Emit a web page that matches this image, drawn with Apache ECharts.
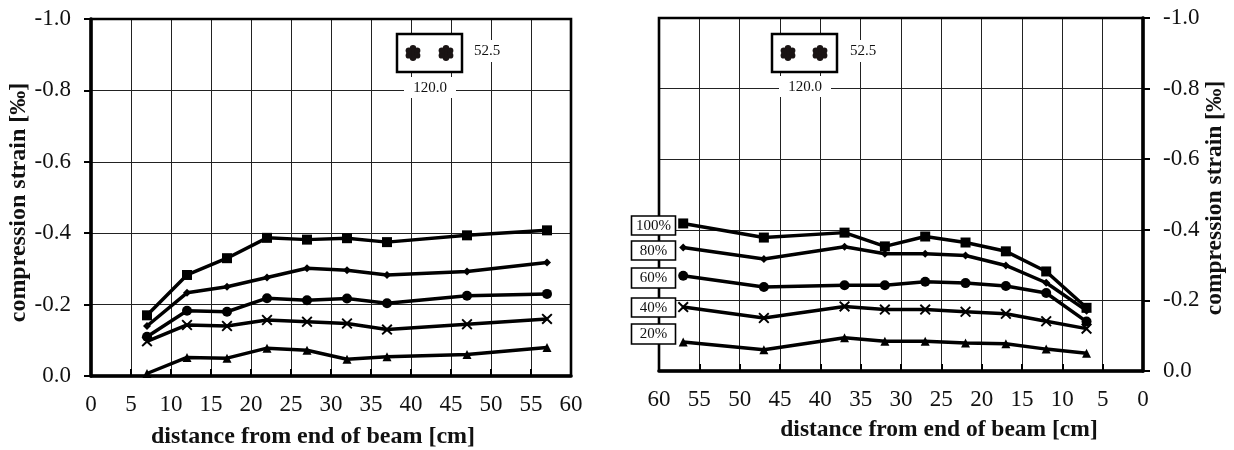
<!DOCTYPE html>
<html><head><meta charset="utf-8">
<style>html,body{margin:0;padding:0;background:#fff}#c{width:1234px;height:450px}</style>
<script src="https://cdn.jsdelivr.net/npm/echarts@6/dist/echarts.min.js"></script>
</head><body><div id="c"></div>
<script>
const seriesNames = ['100%','80%','60%','40%','20%'];
const yTicks = [-1.0,-0.8,-0.6,-0.4,-0.2,0.0];
const leftX = [7,12,17,22,27,32,37,47,57];
const left100 = [-0.170,-0.283,-0.330,-0.387,-0.382,-0.386,-0.375,-0.394,-0.408];
const left80  = [-0.140,-0.233,-0.250,-0.276,-0.302,-0.296,-0.283,-0.293,-0.318];
const left60  = [-0.110,-0.183,-0.180,-0.218,-0.212,-0.217,-0.204,-0.225,-0.230];
const left40  = [-0.097,-0.143,-0.140,-0.157,-0.152,-0.147,-0.130,-0.145,-0.160];
const left20  = [-0.007,-0.052,-0.050,-0.078,-0.072,-0.047,-0.054,-0.060,-0.080];
const rightX = [57,47,37,32,27,22,17,12,7];
const right100 = [-0.418,-0.378,-0.392,-0.353,-0.381,-0.364,-0.339,-0.282,-0.179];
const right80  = [-0.350,-0.317,-0.352,-0.332,-0.332,-0.327,-0.299,-0.250,-0.171];
const right60  = [-0.270,-0.238,-0.243,-0.243,-0.253,-0.249,-0.241,-0.221,-0.140];
const right40  = [-0.181,-0.150,-0.183,-0.174,-0.174,-0.168,-0.162,-0.141,-0.120];
const right20  = [-0.082,-0.060,-0.094,-0.084,-0.084,-0.079,-0.077,-0.062,-0.050];
const FONT = '"Liberation Serif","Times New Roman",serif';
const INK = '#111';
const X_PATH = 'path://M1.2 0 L5 3.6 L8.8 0 L10 1.2 L6.3 5 L10 8.8 L8.8 10 L5 6.4 L1.2 10 L0 8.8 L3.7 5 L0 1.2 Z';
const symbols = ['rect','diamond','circle',X_PATH,'triangle'];
const sizes = [10,8,10,11,9];

function axes(gridIndex, rightSide){
  return {
    x:{gridIndex,type:'value',min:0,max:60,interval:5,inverse:rightSide,position:'bottom',
      name:'distance from end of beam [cm]',nameLocation:'middle',nameGap:rightSide?47:49,
      nameTextStyle:{fontFamily:FONT,fontSize:rightSide?23.5:24,fontWeight:'bold',color:INK,
        padding:rightSide?[0,0,0,76]:[0,36,0,0]},
      axisLine:{show:true,onZero:false,lineStyle:{color:'#000',width:3.5}},
      axisTick:{show:true,inside:true,length:7,lineStyle:{color:'#000',width:2}},
      axisLabel:{fontFamily:FONT,fontSize:23,color:INK,margin:17,showMinLabel:true,showMaxLabel:true},
      splitLine:{show:true,lineStyle:{color:'#222',width:1}}},
    y:{gridIndex,type:'value',min:-1,max:0,interval:0.2,inverse:true,position:rightSide?'right':'left',
      name:'compression strain [‰]',nameLocation:'middle',nameGap:rightSide?60:58,nameRotate:90,
      nameTextStyle:{fontFamily:FONT,fontSize:rightSide?23.5:24,fontWeight:'bold',color:INK,
        padding:rightSide?[0,7,0,0]:[0,10,0,0]},
      axisLine:{show:true,onZero:false,lineStyle:{color:'#000',width:3.5}},
      axisTick:{show:true,inside:false,length:7,lineStyle:{color:'#000',width:2}},
      axisLabel:{fontFamily:FONT,fontSize:23,color:INK,margin:20,showMinLabel:true,showMaxLabel:true,
        formatter:v=>yTicks.find(t=>Math.abs(t-v)<1e-6).toFixed(1)},
      splitLine:{show:true,lineStyle:{color:'#222',width:1}}}
  };
}
function lines(xs, ys, axisIndex){
  return ys.map((vals,i)=>({
    type:'line',name:seriesNames[i],xAxisIndex:axisIndex,yAxisIndex:axisIndex,
    data:vals.map((v,j)=>[xs[j],v]),
    symbol:symbols[i],symbolSize:sizes[i],showSymbol:true,clip:false,z:5,animation:false,
    lineStyle:{color:'#000',width:3.5},
    itemStyle:{color:'#000'}
  }));
}
const a0 = axes(0,false), a1 = axes(1,true);

function sixLobe(cx,cy){
  const parts=[{type:'circle',shape:{cx,cy,r:6},style:{fill:'#1a1414'}}];
  [[0,-4.8],[4.2,-2.4],[4.2,2.4],[0,4.8],[-4.2,2.4],[-4.2,-2.4]].forEach(o=>{
    parts.push({type:'circle',shape:{cx:cx+o[0],cy:cy+o[1],r:3.2},style:{fill:'#1a1414'}});
  });
  return parts;
}
function inset(x0,x1,y0,y1,d1,d2,wx,wy,hx,hy){
  return [
    {type:'rect',shape:{x:x0,y:y0,width:x1-x0,height:y1-y0},style:{fill:'#fff',stroke:'#000',lineWidth:2.5},z:10},
    ...sixLobe(d1,(y0+y1)/2).map(p=>({...p,z:11})),
    ...sixLobe(d2,(y0+y1)/2).map(p=>({...p,z:11})),
    {type:'rect',shape:{x:hx-26,y:hy-11,width:52,height:21},style:{fill:'#fff'},z:10},
    {type:'text',x:hx,y:hy,style:{text:'120.0',fontFamily:FONT,fontSize:15,fill:INK,align:'center',verticalAlign:'middle'},z:11},
    {type:'rect',shape:{x:wx-15,y:wy-11,width:30,height:22},style:{fill:'#fff'},z:10},
    {type:'text',x:wx,y:wy,style:{text:'52.5',fontFamily:FONT,fontSize:15,fill:INK,align:'center',verticalAlign:'middle'},z:11}
  ];
}
const boxY = [[216,235],[241,260],[268,288],[298,317],[324,344]];
const boxes = boxY.flatMap((b,i)=>[
  {type:'rect',shape:{x:631.5,y:b[0],width:44,height:b[1]-b[0]},style:{fill:'#fff',stroke:'#000',lineWidth:1.6},z:12},
  {type:'text',x:653.5,y:(b[0]+b[1])/2+0.5,style:{text:seriesNames[i],fontFamily:FONT,fontSize:15,fill:INK,align:'center',verticalAlign:'middle'},z:13}
]);
const frame = (l,t,w,h)=>({type:'rect',shape:{x:l,y:t,width:w,height:h},style:{fill:'none',stroke:'#000',lineWidth:2.6},z:4});

const chart = echarts.init(document.getElementById('c'),null,{renderer:'canvas'});
chart.setOption({
  animation:false,
  backgroundColor:'#fff',
  grid:[{left:91,top:19,width:480,height:357,outerBoundsMode:'none'},
        {left:659,top:18,width:484,height:353,outerBoundsMode:'none'}],
  xAxis:[a0.x,a1.x],
  yAxis:[a0.y,a1.y],
  series:[...lines(leftX,[left100,left80,left60,left40,left20],0),
          ...lines(rightX,[right100,right80,right60,right40,right20],1)],
  graphic:[frame(91,19,480,357),frame(659,18,484,353),
    ...inset(397,462,34,72,413,446,487,51,430,88),
    ...inset(772,837,34,72,788,820,863,51,805,87),
    ...boxes]
});
</script></body></html>
